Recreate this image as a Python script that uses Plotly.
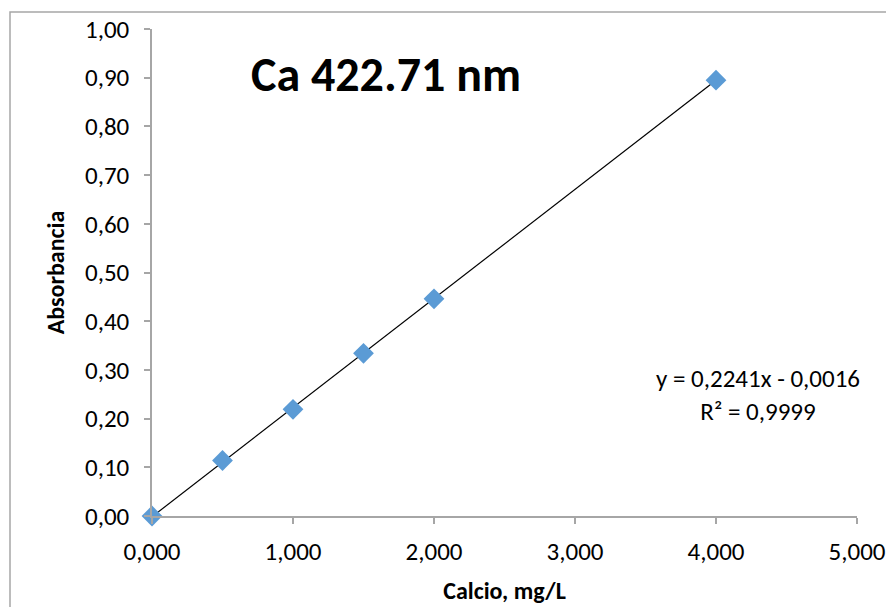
import plotly.graph_objects as go

# Data
calcio = [0.0, 0.5, 1.0, 1.5, 2.0, 4.0]
absorbancia = [0.000, 0.114, 0.219, 0.334, 0.446, 0.895]
slope = 0.2241
intercept = -0.0016
trend_x = [0.0, 4.0]
trend_y = [slope * x + intercept for x in trend_x]

x_ticks = [0, 1, 2, 3, 4, 5]
y_ticks = [0.0, 0.1, 0.2, 0.3, 0.4, 0.5, 0.6, 0.7, 0.8, 0.9, 1.0]

FONT = "Carlito, Calibri, Lato, sans-serif"
AXIS_COLOR = "#a6a6a6"

fig = go.Figure()
fig.add_trace(go.Scatter(x=trend_x, y=trend_y, mode="lines",
                         line=dict(color="black", width=1.2),
                         hoverinfo="skip", showlegend=False))
fig.add_trace(go.Scatter(x=calcio, y=absorbancia, mode="markers",
                         marker=dict(symbol="diamond", size=16, color="#5b9bd5",
                                     line=dict(width=0)),
                         showlegend=False, cliponaxis=False))

W, H = 894, 607
OFF = 8  # page body margin offset
L, T = 152 - OFF, 29 - OFF
R = W - (857 - OFF)
B = H - (516 - OFF)
pw, ph = W - L - R, H - T - B

def px(x):
    return (x - OFF - L) / pw

def py(y):
    return (H - B - (y - OFF)) / ph

fig.add_shape(type="rect", xref="paper", yref="paper",
              x0=px(10), x1=px(920), y0=py(630), y1=py(12),
              line=dict(color="#a6a6a6", width=1.5), fillcolor="rgba(0,0,0,0)",
              layer="below")

fig.add_annotation(text="<b>Ca 422.71 nm</b>", xref="paper", yref="paper",
                   x=px(386), y=py(74), showarrow=False,
                   font=dict(family=FONT, size=48, color="black"),
                   xanchor="center", yanchor="middle")
fig.add_annotation(text="y = 0,2241x - 0,0016<br>R² = 0,9999", xref="paper", yref="paper",
                   x=px(758), y=py(395), showarrow=False, align="center",
                   font=dict(family=FONT, size=25, color="black"),
                   xanchor="center", yanchor="middle")

fig.update_layout(
    width=W, height=H,
    margin=dict(l=L, r=R, t=T, b=B, autoexpand=False),
    paper_bgcolor="white", plot_bgcolor="white",
    separators=",.",
    font=dict(family=FONT, size=25, color="black"),
    xaxis=dict(range=[0, 5], tickvals=x_ticks, tickformat=".3f",
               showgrid=False, zeroline=False, showline=True, automargin=False,
               linecolor=AXIS_COLOR, linewidth=1.5,
               ticks="outside", ticklen=6, tickcolor=AXIS_COLOR, tickwidth=1.5,
               tickfont=dict(size=25), ticklabelstandoff=6,
               title=dict(text="<b>Calcio, mg/L</b>", font=dict(size=24), standoff=16)),
    yaxis=dict(range=[0, 1], tickvals=y_ticks, tickformat=".2f",
               showgrid=False, zeroline=False, showline=True, automargin=False,
               linecolor=AXIS_COLOR, linewidth=1.5,
               ticks="outside", ticklen=6, tickcolor=AXIS_COLOR, tickwidth=1.5,
               tickfont=dict(size=25), ticklabelstandoff=10,
               title=dict(text="<b>Absorbancia</b>", font=dict(size=24), standoff=14)),
)

fig.write_html("out.html")
